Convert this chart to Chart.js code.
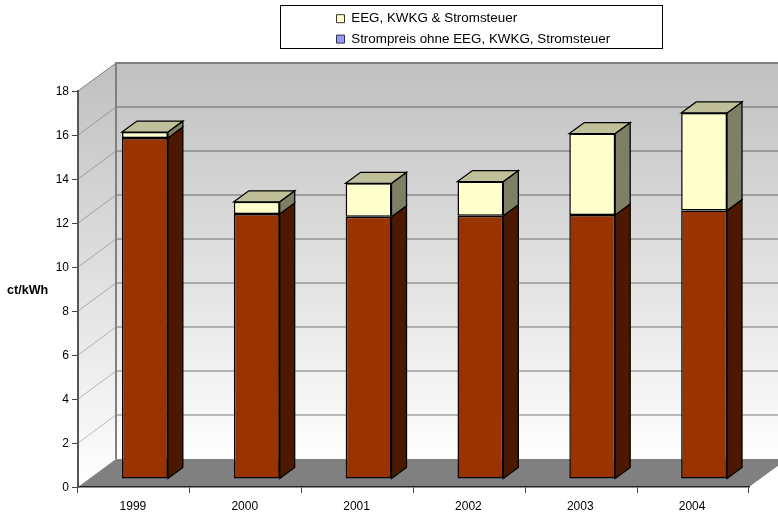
<!DOCTYPE html>
<html><head><meta charset="utf-8">
<style>html,body{margin:0;padding:0;background:#fff}canvas{display:block}</style>
<script src="https://cdn.jsdelivr.net/npm/chart.js@4"></script>
</head><body><canvas id="c" width="778" height="512"></canvas>
<script>
const categories = ['1999','2000','2001','2002','2003','2004'];
const baseValues = [15.5, 12.05, 11.92, 11.97, 12.0, 12.2];
const levyValues = [0.27, 0.55, 1.52, 1.55, 3.7, 4.44];
const baseLabel = 'Strompreis ohne EEG, KWKG, Stromsteuer';
const levyLabel = 'EEG, KWKG & Stromsteuer';
const yTitle = 'ct/kWh';

const FONT = '"Liberation Sans", Arial, sans-serif';
const WALL = {dx: 38, dy: 28};
const SHIFT = {dx: 11, dy: 8};
const BAR = {dx: 15, dy: 11};

function poly(ctx, pts, fill, stroke, lw){
  ctx.beginPath();
  pts.forEach((p,i)=> i?ctx.lineTo(p[0],p[1]):ctx.moveTo(p[0],p[1]));
  ctx.closePath();
  if(fill){ctx.fillStyle=fill;ctx.fill();}
  if(stroke){ctx.strokeStyle=stroke;ctx.lineWidth=lw||1;ctx.stroke();}
}

const scene = {
  id:'scene',
  afterLayout(chart){
    const lg = chart.legend, p = lg.options.labels.padding;
    const w = lg.right-lg.left, h = lg.bottom-lg.top;
    lg.left = 336.5-p; lg.right = lg.left+w; lg.top = 12-p; lg.bottom = lg.top+h;
  },
  beforeDraw(chart){
    const {ctx, chartArea:a, scales:{y}} = chart;
    const top = a.top-WALL.dy, bot = a.bottom-WALL.dy, bl = a.left+WALL.dx, br = a.right+WALL.dx;
    ctx.save();
    const g = ctx.createLinearGradient(0,top,0,bot);
    g.addColorStop(0,'#c0c0c0'); g.addColorStop(1,'#ffffff');
    poly(ctx,[[bl,top],[br,top],[br,bot],[bl,bot]],g);
    const g2 = ctx.createLinearGradient(0,top,0,a.bottom);
    g2.addColorStop(0,'#c0c0c0'); g2.addColorStop(1,'#ffffff');
    poly(ctx,[[a.left,a.top],[bl,top],[bl,bot],[a.left,a.bottom]],g2);
    poly(ctx,[[a.left,a.bottom],[bl,bot],[br,bot],[a.right,a.bottom]],'#808080');
    ctx.strokeStyle='rgba(0,0,0,0.25)';
    y.ticks.forEach(t=>{
      if(t.value===0||t.value===18) return;
      const py=y.getPixelForValue(t.value);
      ctx.lineWidth=1;ctx.beginPath();ctx.moveTo(a.left,py);ctx.lineTo(bl,py-WALL.dy);ctx.stroke();
      ctx.lineWidth=2;ctx.beginPath();ctx.moveTo(bl,py-WALL.dy);ctx.lineTo(br,py-WALL.dy);ctx.stroke();
    });
    ctx.strokeStyle='#808080';ctx.lineWidth=1;
    ctx.beginPath();ctx.moveTo(a.left,a.top);ctx.lineTo(bl,top);ctx.stroke();
    ctx.lineWidth=2;
    ctx.beginPath();ctx.moveTo(bl,bot);ctx.lineTo(bl,top);ctx.lineTo(br,top);ctx.stroke();
    ctx.restore();
  },
  beforeDatasetsDraw(chart){
    const ctx=chart.ctx;
    ctx.save();
    ctx.translate(SHIFT.dx,-SHIFT.dy);
    const faces=['#4c1900','#7f7f66'];
    chart.data.datasets.forEach((ds,di)=>{
      chart.getDatasetMeta(di).data.forEach(el=>{
        const r=el.x+el.width/2,l=el.x-el.width/2,t=el.y,b=el.base;
        poly(ctx,[[r,t],[r+BAR.dx,t-BAR.dy],[r+BAR.dx,b-BAR.dy],[r,b]],faces[di],'#000',1.3);
        if(di===chart.data.datasets.length-1)
          poly(ctx,[[l,t],[l+BAR.dx,t-BAR.dy],[r+BAR.dx,t-BAR.dy],[r,t]],'#bfbf99','#000',1.3);
      });
    });
  },
  afterDatasetsDraw(chart){ chart.ctx.restore(); },
  afterDraw(chart){
    const {ctx,chartArea:a}=chart;
    ctx.save();
    ctx.strokeStyle='#000';ctx.lineWidth=1;
    ctx.strokeRect(280.5,5.5,382,43);
    ctx.fillStyle='#000';ctx.font='bold 12.6px '+FONT;
    ctx.textAlign='left';ctx.textBaseline='middle';
    ctx.fillText(yTitle,7,(a.top+a.bottom)/2+2);
    ctx.restore();
  }
};

new Chart(document.getElementById('c'),{
  type:'bar',
  data:{labels:categories,datasets:[
    {label:baseLabel,data:baseValues,backgroundColor:'#993300',borderColor:'#000',borderWidth:1.5,borderSkipped:false,clip:false},
    {label:levyLabel,data:levyValues,backgroundColor:'#ffffcc',borderColor:'#000',borderWidth:1.5,borderSkipped:false,clip:false}
  ]},
  options:{
    responsive:false,animation:false,
    layout:{padding:{top:91,right:29,left:0,bottom:0}},
    datasets:{bar:{barPercentage:0.41,categoryPercentage:1}},
    scales:{
      x:{stacked:true,
        grid:{display:true,drawOnChartArea:false,drawTicks:true,tickLength:6,color:'#444',offset:true},
        border:{color:'#222',width:1.5},
        ticks:{color:'#000',font:{family:FONT,size:12},padding:6,maxRotation:0,labelOffset:-1},
        afterFit(s){s.height=25;}},
      y:{stacked:true,min:0,max:18,
        grid:{display:true,drawOnChartArea:false,drawTicks:true,tickLength:6,color:'#444'},
        border:{color:'#555',width:2},
        ticks:{stepSize:2,color:'#000',font:{family:FONT,size:12},padding:3,labelOffset:1},
        afterFit(s){s.width=78;}}
    },
    plugins:{
      tooltip:{enabled:false},
      legend:{position:'chartArea',align:'start',
        labels:{boxWidth:8,boxHeight:8,padding:7,color:'#000',font:{family:FONT,size:13.4},
          generateLabels(){return [
            {text:levyLabel,fillStyle:'#ffffcc',strokeStyle:'#333',lineWidth:1,hidden:false,datasetIndex:1},
            {text:baseLabel,fillStyle:'#9999ff',strokeStyle:'#333',lineWidth:1,hidden:false,datasetIndex:0}
          ];}}}
    }
  },
  plugins:[scene]
});
</script></body></html>
